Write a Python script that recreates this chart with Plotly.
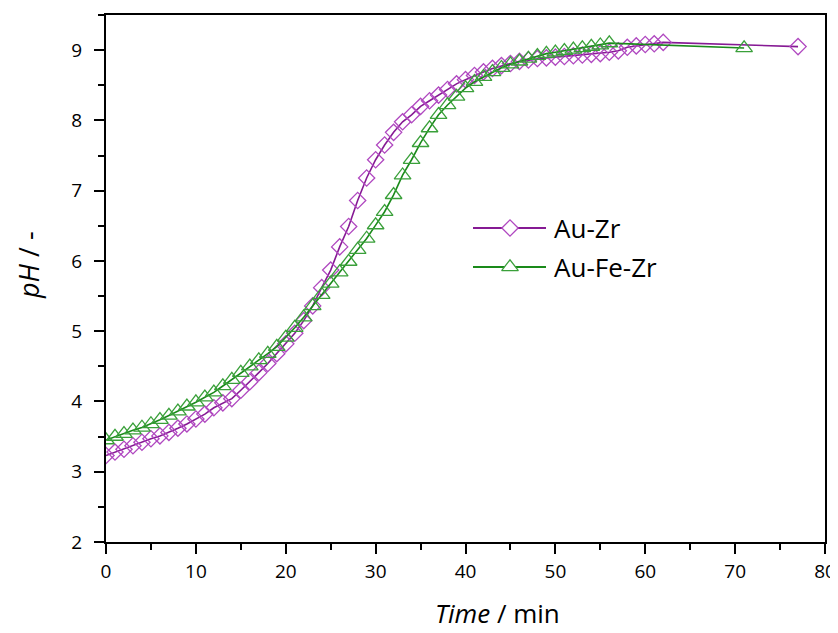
import plotly.graph_objects as go

# ---- data ----
time_auzr = [0, 1, 2, 3, 4, 5, 6, 7, 8, 9, 10, 11, 12, 13, 14, 15, 16, 17, 18, 19,
             20, 21, 22, 23, 24, 25, 26, 27, 28, 29, 30, 31, 32, 33, 34, 35, 36, 37, 38, 39,
             40, 41, 42, 43, 44, 45, 46, 47, 48, 49, 50, 51, 52, 53, 54, 55, 56, 57, 58, 59,
             60, 61, 62, 77]
ph_auzr = [3.23, 3.28, 3.32, 3.37, 3.42, 3.47, 3.51, 3.56, 3.62, 3.68, 3.75, 3.82, 3.91, 3.98,
           4.04, 4.16, 4.28, 4.41, 4.54, 4.68, 4.82, 4.97, 5.15, 5.36, 5.62, 5.87, 6.20, 6.49,
           6.86, 7.18, 7.44, 7.65, 7.83, 7.98, 8.08, 8.20, 8.28, 8.36, 8.44, 8.52, 8.58, 8.64,
           8.69, 8.74, 8.78, 8.81, 8.84, 8.86, 8.88, 8.89, 8.90, 8.91, 8.92, 8.93, 8.94, 8.95,
           8.97, 8.99, 9.04, 9.06, 9.08, 9.09, 9.11, 9.05]

time_aufezr = [0, 1, 2, 3, 4, 5, 6, 7, 8, 9, 10, 11, 12, 13, 14, 15, 16, 17, 18, 19,
               20, 21, 22, 23, 24, 25, 26, 27, 28, 29, 30, 31, 32, 33, 34, 35, 36, 37, 38, 39,
               40, 41, 42, 43, 44, 45, 46, 47, 48, 49, 50, 51, 52, 53, 54, 55, 56, 71]
ph_aufezr = [3.45, 3.50, 3.54, 3.59, 3.63, 3.68, 3.74, 3.80, 3.86, 3.93, 3.99, 4.06, 4.13, 4.22,
             4.31, 4.41, 4.50, 4.59, 4.68, 4.78, 4.91, 5.05, 5.20, 5.36, 5.52, 5.68, 5.84, 5.99,
             6.16, 6.32, 6.51, 6.70, 6.94, 7.22, 7.44, 7.68, 7.89, 8.08, 8.22, 8.34, 8.46, 8.55,
             8.62, 8.69, 8.75, 8.80, 8.84, 8.88, 8.92, 8.95, 8.97, 8.99, 9.01, 9.03, 9.05, 9.07,
             9.10, 9.03]

series_names = ["Au-Zr", "Au-Fe-Zr"]
x_ticks = [0, 10, 20, 30, 40, 50, 60, 70, 80]
y_ticks = [2, 3, 4, 5, 6, 7, 8, 9]

PURPLE_LINE = "#861a94"
PURPLE_MK = "#b048c0"
GREEN_LINE = "#1a8a1a"
GREEN_MK = "#3aa03a"
FONT = "Open Sans"

# page body has an 8px margin: the figure is drawn 8px right / down
OFF = 8
W, H = 838 - OFF, 633 - OFF
L, R, T, B = 106 - OFF, 838 - 825, 15 - OFF, 633 - 542
PW, PH = W - L - R, H - T - B


def px_x(px):
    return (px - OFF - L) / PW


def px_y(py):
    return (H - B - (py - OFF)) / PH


fig = go.Figure()

fig.add_trace(go.Scatter(
    x=time_auzr, y=ph_auzr, mode="lines+markers", name=series_names[0],
    line=dict(color=PURPLE_LINE, width=1.6),
    marker=dict(symbol="diamond-open", size=12.5, color=PURPLE_MK, line=dict(width=1.3, color=PURPLE_MK)),
    showlegend=False,
))
fig.add_trace(go.Scatter(
    x=time_aufezr, y=ph_aufezr, mode="lines+markers", name=series_names[1],
    line=dict(color=GREEN_LINE, width=1.6),
    marker=dict(symbol="triangle-up-open", size=14.5, color=GREEN_MK, line=dict(width=1.3, color=GREEN_MK)),
    showlegend=False,
))

# ---- hand-made legend on an overlay axis spanning the plot area ----
leg_y = [px_y(228), px_y(267)]
leg_x = [px_x(473), px_x(510), px_x(546)]
fig.add_trace(go.Scatter(
    x=leg_x, y=[leg_y[0]] * 3, xaxis="x2", yaxis="y2", mode="lines",
    line=dict(color=PURPLE_LINE, width=2), showlegend=False, hoverinfo="skip"))
fig.add_trace(go.Scatter(
    x=[leg_x[1]], y=[leg_y[0]], xaxis="x2", yaxis="y2", mode="markers",
    marker=dict(symbol="diamond", size=12.5, color="white", line=dict(width=1.3, color=PURPLE_MK)),
    showlegend=False, hoverinfo="skip"))
fig.add_trace(go.Scatter(
    x=leg_x, y=[leg_y[1]] * 3, xaxis="x2", yaxis="y2", mode="lines",
    line=dict(color=GREEN_LINE, width=2), showlegend=False, hoverinfo="skip"))
fig.add_trace(go.Scatter(
    x=[leg_x[1]], y=[leg_y[1]], xaxis="x2", yaxis="y2", mode="markers",
    marker=dict(symbol="triangle-up", size=14.5, color="white", line=dict(width=1.3, color=GREEN_MK)),
    showlegend=False, hoverinfo="skip"))

for name, yy in zip(series_names, leg_y):
    fig.add_annotation(x=px_x(552), y=yy, xref="paper", yref="paper", text=name,
                       showarrow=False, xanchor="left", yanchor="middle",
                       font=dict(family=FONT, size=26, color="black"))

# axis titles as annotations
fig.add_annotation(x=px_x(497), y=px_y(613), xref="paper", yref="paper",
                   text="<i>Time</i> / min", showarrow=False, xanchor="center", yanchor="middle",
                   font=dict(family=FONT, size=26, color="black"))
fig.add_annotation(x=px_x(28), y=px_y(265), xref="paper", yref="paper",
                   text="<i>pH</i> / -", showarrow=False, xanchor="center", yanchor="middle",
                   textangle=-90, font=dict(family=FONT, size=27, color="black"))

axis_common = dict(
    showline=True, linecolor="black", linewidth=2, mirror=True,
    ticks="outside", ticklen=10, tickwidth=2, tickcolor="black",
    showgrid=False, zeroline=False,
    tickfont=dict(family=FONT, size=19, color="black"),
)

fig.update_layout(
    width=W, height=H,
    margin=dict(l=L, r=R, t=T, b=B, autoexpand=False),
    paper_bgcolor="white", plot_bgcolor="white",
    xaxis=dict(range=[0, 80], tickvals=x_ticks, ticktext=[str(v) for v in x_ticks],
               minor=dict(tickvals=[5, 15, 25, 35, 45, 55, 65, 75], ticklen=6, tickwidth=2,
                          tickcolor="black", ticks="outside", showgrid=False),
               ticklabelstandoff=1, **axis_common),
    yaxis=dict(range=[2, 9.5], tickvals=y_ticks, ticktext=[str(v) for v in y_ticks],
               minor=dict(tickvals=[2.5, 3.5, 4.5, 5.5, 6.5, 7.5, 8.5, 9.5], ticklen=6, tickwidth=2,
                          tickcolor="black", ticks="outside", showgrid=False),
               ticklabelstandoff=8, **axis_common),
    xaxis2=dict(overlaying="x", range=[0, 1], visible=False, fixedrange=True),
    yaxis2=dict(overlaying="y", range=[0, 1], visible=False, fixedrange=True),
    showlegend=False,
)

fig.write_html("out.html")
